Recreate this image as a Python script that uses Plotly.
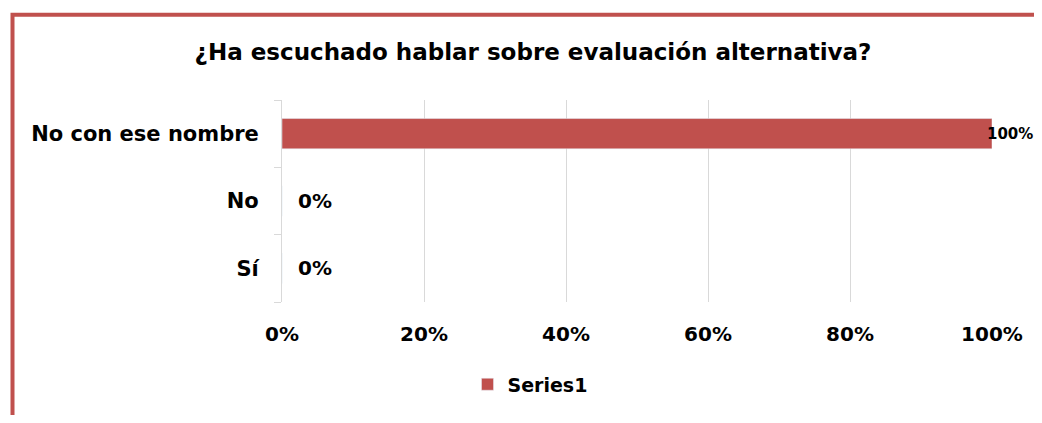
import plotly.graph_objects as go

categories = ["Sí", "No", "No con ese nombre"]
values = [0.0, 0.0, 1.0]
labels = ["0%", "0%", "100%"]
series_name = "Series1"
title = "¿Ha escuchado hablar sobre evaluación alternativa?"
tick_vals = [0, 0.2, 0.4, 0.6, 0.8, 1.0]
tick_text = ["0%", "20%", "40%", "60%", "80%", "100%"]

RED = "#C0504D"
FONT = "DejaVu Sans"

# page has an 8px body margin; work in figure coordinates
W, H = 1026, 407
L, T = 274, 92
R = W - 984
B = H - 298
pw = W - L - R
ph = H - T - B


def px_x(p):
    return (p - L) / pw


def px_y(p):
    return (H - B - p) / ph


fig = go.Figure()
fig.add_trace(go.Bar(
    y=categories, x=values, orientation="h", name=series_name,
    marker=dict(color=RED), width=0.45,
    showlegend=True, hoverinfo="x+y",
))

for cat, v, lab in zip(categories, values, labels):
    fig.add_annotation(
        x=v, y=cat, xref="x", yref="y", text=lab, showarrow=False,
        xanchor="left", yanchor="middle", xshift=(14 if v == 0 else -7),
        font=dict(family=FONT, size=(20 if v == 0 else 15), color="black", weight="bold"),
    )

fig.add_shape(type="rect", xref="paper", yref="paper",
              x0=px_x(4.5), x1=px_x(1100), y0=px_y(5), y1=px_y(500),
              line=dict(color=RED, width=4), fillcolor="rgba(0,0,0,0)", layer="below")

fig.update_layout(
    width=W, height=H,
    margin=dict(l=L, r=R, t=T, b=B),
    paper_bgcolor="white", plot_bgcolor="white",
    title=dict(text=title, x=(525) / W, xanchor="center", y=1 - 44 / H, yanchor="middle",
               xref="container", yref="container",
               font=dict(family=FONT, size=23, color="black", weight="bold")),
    font=dict(family=FONT, color="black"),
    xaxis=dict(range=[0, 1], tickvals=tick_vals, ticktext=tick_text,
               showgrid=True, gridcolor="#D9D9D9", gridwidth=1, zeroline=False,
               showline=False, ticks="", ticklabelstandoff=18,
               tickfont=dict(family=FONT, size=20, color="black", weight="bold")),
    yaxis=dict(type="category", categoryorder="array", categoryarray=categories,
               showline=True, linecolor="#D9D9D9", linewidth=1,
               ticks="outside", tickson="boundaries", ticklen=7, tickcolor="#D9D9D9",
               showgrid=False, zeroline=False, ticklabelstandoff=18,
               tickfont=dict(family=FONT, size=21, color="black", weight="bold")),
    legend=dict(orientation="h", x=px_x(522), xanchor="center", y=px_y(382), yanchor="middle",
                font=dict(family=FONT, size=19, color="black", weight="bold"),
                itemwidth=30),
)

fig.write_html("out.html")
